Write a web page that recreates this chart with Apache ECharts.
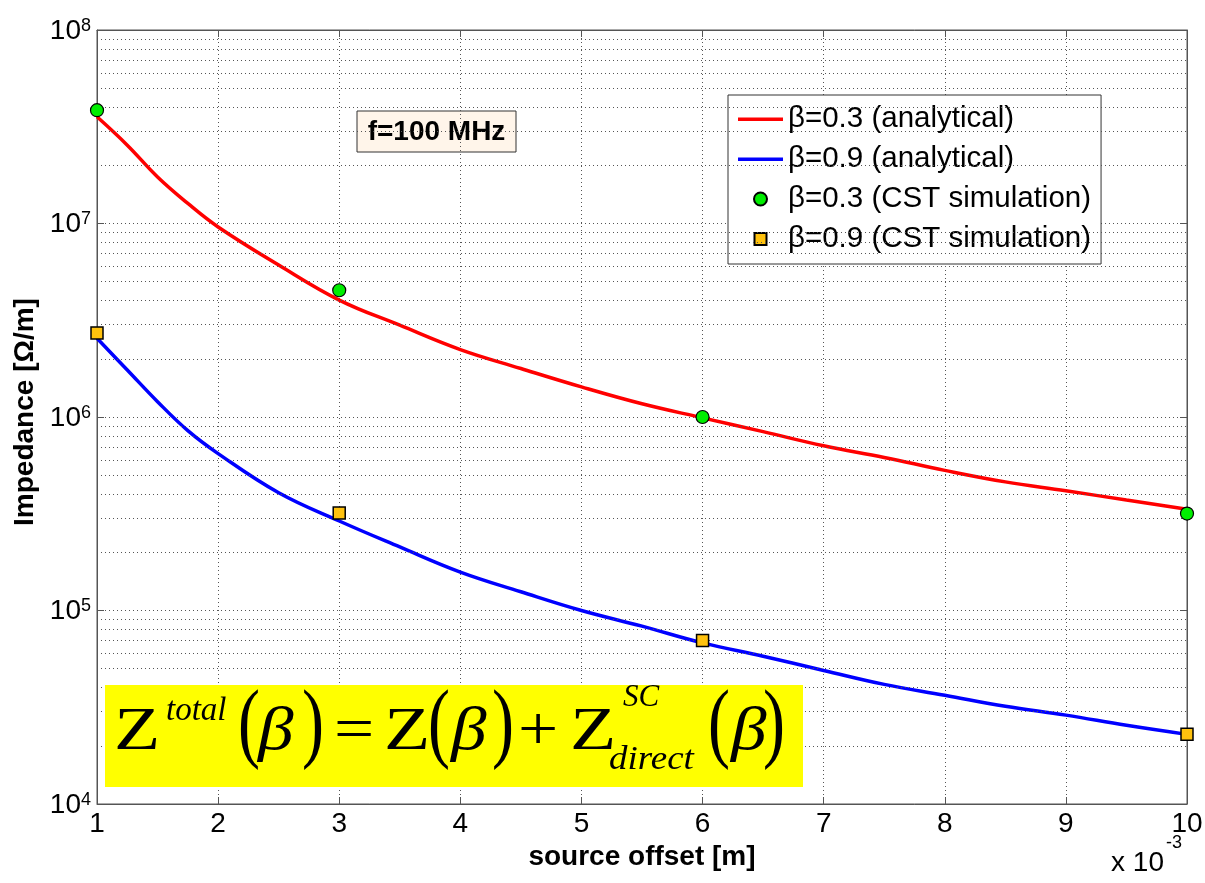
<!DOCTYPE html>
<html>
<head>
<meta charset="utf-8">
<script src="https://cdn.jsdelivr.net/npm/echarts@6/dist/echarts.min.js"></script>
<style>
html,body{margin:0;padding:0;background:#fff;}
#chart{width:1205px;height:883px;}
</style>
</head>
<body>
<div id="chart"></div>
<script>
// ---- data ----
const seriesNames = ['β=0.3 (analytical)', 'β=0.9 (analytical)', 'β=0.3 (CST simulation)', 'β=0.9 (CST simulation)'];
const xSamples   = [1, 1.25, 1.5, 1.75, 2, 2.5, 3, 3.5, 4, 4.5, 5, 5.5, 6, 6.5, 7, 7.5, 8, 8.5, 9, 9.5, 10];
const zBeta03    = [3.56e7, 2.54e7, 1.74e7, 1.27e7, 9.6e6, 6.1e6, 4.02e6, 2.98e6, 2.23e6, 1.78e6, 1.43e6, 1.17e6, 9.9e5, 8.4e5, 7.1e5, 6.18e5, 5.3e5, 4.62e5, 4.16e5, 3.72e5, 3.34e5];
const zBeta09    = [2.55e6, 1.75e6, 1.2e6, 8.5e5, 6.47e5, 4.06e5, 2.9e5, 2.13e5, 1.58e5, 1.25e5, 1.0e5, 8.3e4, 6.8e4, 5.8e4, 4.9e4, 4.15e4, 3.65e4, 3.2e4, 2.88e4, 2.55e4, 2.29e4];
const xCST       = [1, 3, 6, 10];
const cstBeta03  = [3.85e7, 4.52e6, 1.0e6, 3.17e5];
const cstBeta09  = [2.72e6, 3.19e5, 7.0e4, 2.29e4];
const xTicks     = [1, 2, 3, 4, 5, 6, 7, 8, 9, 10];
const decades    = [1e4, 1e5, 1e6, 1e7];
const minorMults = [2, 3, 4, 5, 6, 7, 8, 9];
const annotation = 'f=100 MHz';
const xScaleNote = ['x 10', '-3'];

const sans = '"Liberation Sans", Arial, Helvetica, sans-serif';
const serif = '"Liberation Serif", "Times New Roman", serif';

const zip = (xs, ys) => xs.map((x, i) => [x, ys[i]]);
const minorGrid = [];
decades.forEach(d => minorMults.forEach(m => minorGrid.push({ yAxis: d * m })));

// legend icons: invisible move-to corners fix the 45x13 icon box
const lineIcon = 'path://M0,0M45,13M0,5H45V8.5H0Z';
const squareIcon = 'path://M0,0M45,13M16.5,0.5H28.5V12.5H16.5Z';

function piece(t, left, base, size, italic, sx) {
  return {
    type: 'text', x: left, y: base - 0.32 * size, scaleX: sx || 1, z: 101,
    style: { text: t, fill: '#000', font: (italic ? 'italic ' : '') + size + 'px ' + serif, align: 'left', verticalAlign: 'middle' }
  };
}

const axisGray = '#555';
const chart = echarts.init(document.getElementById('chart'), null, { renderer: 'canvas' });
const option = {
  animation: false,
  backgroundColor: '#fff',
  grid: { left: 97, right: 18, top: 30, bottom: 79, show: true, borderColor: axisGray, borderWidth: 1, containLabel: false, outerBoundsMode: 'none' },
  legend: {
    orient: 'vertical', left: 728, top: 95,
    itemWidth: 45, itemHeight: 13, itemGap: 10,
    padding: [9, 10, 10, 9],
    backgroundColor: '#fff', borderColor: '#333', borderWidth: 1,
    textStyle: { fontSize: 29.5, fontFamily: sans, color: '#000', lineHeight: 28 },
    data: [
      { name: seriesNames[0], icon: lineIcon, itemStyle: { color: '#ff0000', borderWidth: 0 } },
      { name: seriesNames[1], icon: lineIcon, itemStyle: { color: '#0000ff', borderWidth: 0 } },
      { name: seriesNames[2], icon: 'circle' },
      { name: seriesNames[3], icon: squareIcon }
    ]
  },
  xAxis: [{
    type: 'value', min: 1, max: 10, interval: 1,
    axisLine: { show: true, lineStyle: { color: axisGray, width: 1 } },
    axisTick: { inside: true, length: 7, lineStyle: { color: axisGray } },
    axisLabel: { fontSize: 28, color: '#000', fontFamily: sans, margin: 6,
      formatter: v => xTicks.includes(v) ? String(v) : '' },
    splitLine: { show: true, lineStyle: { type: [1, 3], color: axisGray, width: 1 } },
    name: 'source offset [m]', nameLocation: 'middle', nameGap: 38,
    nameTextStyle: { fontWeight: 'bold', fontSize: 28, color: '#000', fontFamily: sans }
  }, {
    type: 'value', position: 'top', min: 1, max: 10, interval: 1,
    axisLine: { show: true, lineStyle: { color: axisGray, width: 1 } },
    axisTick: { inside: true, length: 7, lineStyle: { color: axisGray } },
    axisLabel: { show: false }, splitLine: { show: false }
  }],
  yAxis: [{
    type: 'log', logBase: 10, min: 1e4, max: 1e8, splitNumber: 4,
    axisLine: { show: true, lineStyle: { color: axisGray, width: 1 } },
    axisTick: { inside: true, length: 7, lineStyle: { color: axisGray } },
    axisLabel: {
      margin: 6, showMinLabel: true, showMaxLabel: true, padding: [7, 0, 5, 0],
      formatter: v => '{b|10}{e|' + Math.round(Math.log10(v)) + '}',
      rich: {
        b: { fontSize: 28, fontFamily: sans, color: '#000', lineHeight: 28, padding: [12, 0, 0, 0], verticalAlign: 'bottom' },
        e: { fontSize: 18, fontFamily: sans, color: '#000', lineHeight: 18, verticalAlign: 'top' }
      }
    },
    splitLine: { show: true, lineStyle: { type: [1, 3], color: axisGray, width: 1 } },
    name: 'Impedance [Ω/m]', nameLocation: 'middle', nameGap: 57, nameRotate: 90,
    nameTextStyle: { fontWeight: 'bold', fontSize: 28, color: '#000', fontFamily: sans, padding: [0, 0, 0, 10] }
  }, {
    type: 'log', logBase: 10, min: 1e4, max: 1e8, splitNumber: 4, position: 'right',
    axisLine: { show: true, lineStyle: { color: axisGray, width: 1 } },
    axisTick: { inside: true, length: 7, lineStyle: { color: axisGray } },
    axisLabel: { show: false }, splitLine: { show: false }
  }],
  series: [
    {
      name: seriesNames[0], type: 'line', data: zip(xSamples, zBeta03), smooth: 0.4,
      symbol: 'none', lineStyle: { color: '#ff0000', width: 3.5 }, itemStyle: { color: '#ff0000' }, z: 3,
      markLine: {
        silent: true, symbol: 'none', animation: false, label: { show: false },
        lineStyle: { type: [1, 3], color: axisGray, width: 1 },
        data: minorGrid
      }
    },
    {
      name: seriesNames[1], type: 'line', data: zip(xSamples, zBeta09), smooth: 0.4,
      symbol: 'none', lineStyle: { color: '#0000ff', width: 3.5 }, itemStyle: { color: '#0000ff' }, z: 3
    },
    {
      name: seriesNames[2], type: 'scatter', data: zip(xCST, cstBeta03), symbol: 'circle', symbolSize: 13, clip: false,
      itemStyle: { color: '#00ee00', borderColor: '#000', borderWidth: 1.2, opacity: 1 }, z: 5
    },
    {
      name: seriesNames[3], type: 'scatter', data: zip(xCST, cstBeta09), symbol: 'rect', symbolSize: 12, clip: false,
      itemStyle: { color: '#ffc20e', borderColor: '#000', borderWidth: 1.5, opacity: 1 }, z: 5
    }
  ],
  graphic: [
    { type: 'group', z: 100, children: [
      { type: 'rect', shape: { x: 357, y: 111, width: 159, height: 41 }, style: { fill: '#fff5ea', stroke: '#333', lineWidth: 1 } },
      { type: 'text', x: 436.5, y: 132, style: { text: annotation, font: 'bold 28px ' + sans, fill: '#000', align: 'center', verticalAlign: 'middle' } }
    ]},
    { type: 'group', z: 100, children: [
      { type: 'rect', z: 100, shape: { x: 105, y: 685, width: 698, height: 102 }, style: { fill: '#ffff00' } },
      piece('Z', 114, 753, 62, false, 1.22),
      piece('total', 166, 722, 33, true, 1),
      piece('(', 238, 756, 88, false, 0.75),
      piece('β', 258, 753, 62, true, 1.15),
      piece(')', 302, 756, 88, false, 0.75),
      piece('=', 334, 753, 62, false, 1.15),
      piece('Z', 384, 753, 62, false, 1.22),
      piece('(', 428, 756, 88, false, 0.75),
      piece('β', 451, 753, 62, true, 1.15),
      piece(')', 492, 756, 88, false, 0.75),
      piece('+', 518, 753, 62, false, 1.15),
      piece('Z', 570, 753, 62, false, 1.22),
      piece('SC', 623, 708, 31, true, 1),
      piece('direct', 609, 771, 33, true, 1.12),
      piece('(', 708, 756, 88, false, 0.75),
      piece('β', 731, 753, 62, true, 1.15),
      piece(')', 763, 756, 88, false, 0.75)
    ]},
    { type: 'text', x: 1164, y: 863, style: { text: xScaleNote[0], font: '28px ' + sans, fill: '#000', align: 'right', verticalAlign: 'middle' } },
    { type: 'text', x: 1166, y: 843, style: { text: xScaleNote[1], font: '18px ' + sans, fill: '#000', align: 'left', verticalAlign: 'middle' } }
  ]
};
chart.setOption(option);
</script>
</body>
</html>
